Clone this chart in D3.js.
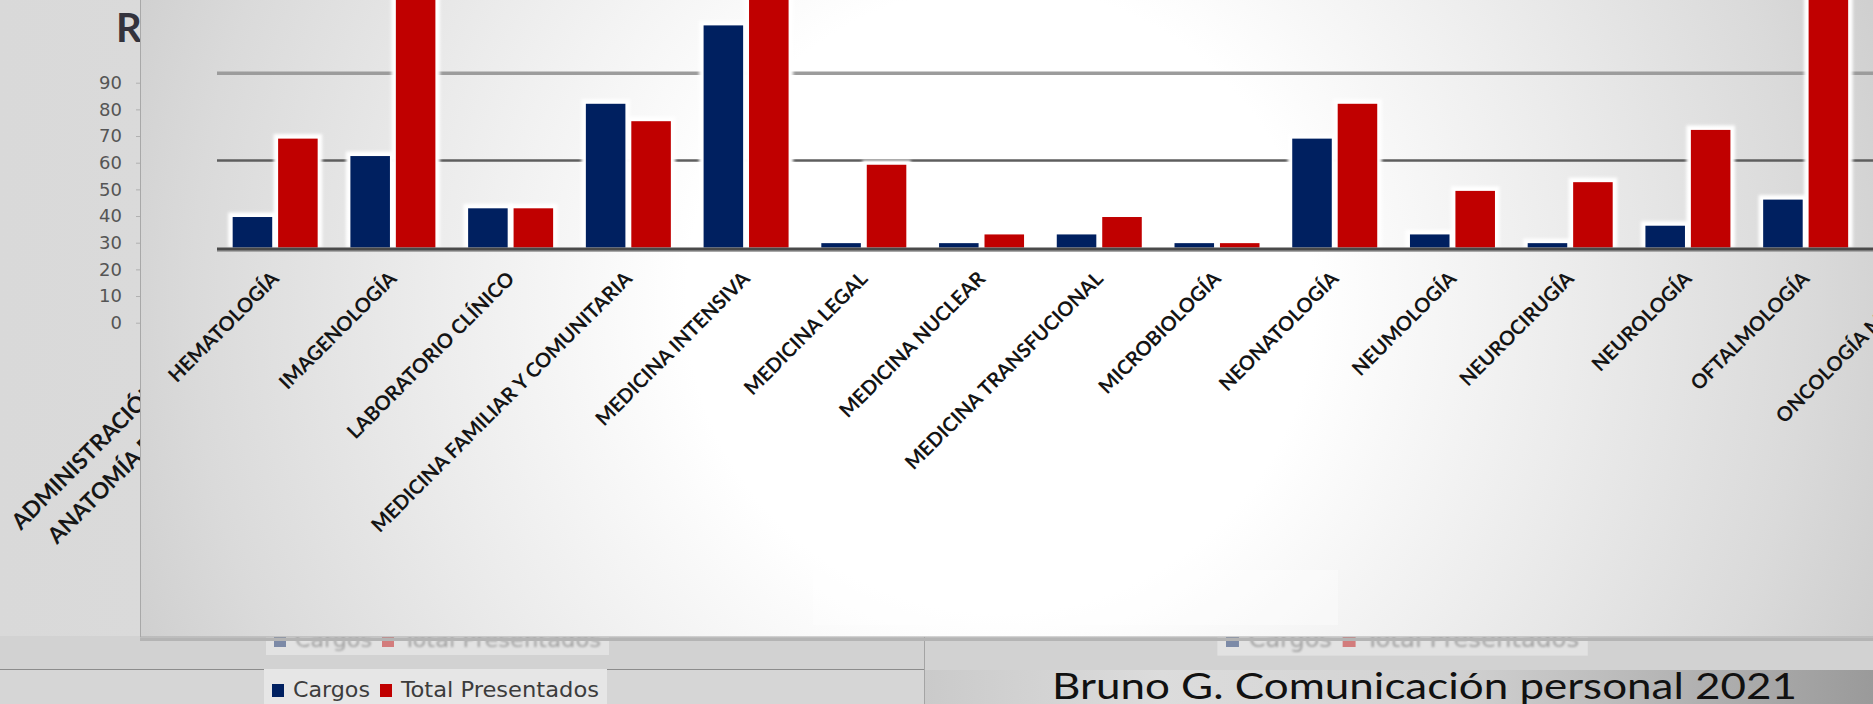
<!DOCTYPE html>
<html>
<head>
<meta charset="utf-8">
<script src="https://cdn.jsdelivr.net/npm/d3@7"></script>
<style>
body { margin: 0; overflow: hidden; background: #dedede; }
</style>
</head>
<body>
<script>
// datos del grafico
var especialidades = ["HEMATOLOGÍA", "IMAGENOLOGÍA", "LABORATORIO CLÍNICO", "MEDICINA FAMILIAR Y COMUNITARIA",
    "MEDICINA INTENSIVA", "MEDICINA LEGAL", "MEDICINA NUCLEAR", "MEDICINA TRANSFUCIONAL", "MICROBIOLOGÍA",
    "NEONATOLOGÍA", "NEUMOLOGÍA", "NEUROCIRUGÍA", "NEUROLOGÍA", "OFTALMOLOGÍA", "ONCOLOGÍA MÉDICA"];
var cargos      = [7, 21, 9, 33, 51, 1, 1, 3, 1, 25, 3, 1, 5, 11, null];
var presentados = [25, 64, 9, 29, 70, 19, 3, 7, 1, 33, 13, 15, 27, 60, null];
var series = ["Cargos", "Total Presentados"];
var colores = ["#002060", "#C00000"];
var lineasGuia = [20, 40];

// diapositiva de fondo (parcialmente tapada)
var ticksFondo = [0, 10, 20, 30, 40, 50, 60, 70, 80, 90];
var etiquetasFondo = ["ADMINISTRACIÓN", "ANATOMÍA PATOLÓGICA"];
var tituloFondo = "R";
var fuente = "Bruno G. Comunicación personal 2021";

var width = 1873, height = 704;
var svg = d3.select("body").append("svg")
    .attr("width", width)
    .attr("height", height);
var defs = svg.append("defs");

// gradientes
var gFondo = defs.append("linearGradient").attr("id", "gFondo");
gFondo.append("stop").attr("offset", "0").attr("stop-color", "#d9d9d9");
gFondo.append("stop").attr("offset", "1").attr("stop-color", "#e6e6e6");

var gPanel = defs.append("radialGradient").attr("id", "gPanel")
    .attr("gradientUnits", "userSpaceOnUse")
    .attr("cx", 1000).attr("cy", 300).attr("r", 950);
[[0, "#ffffff"], [0.33, "#ffffff"], [0.6, "#ececec"], [0.85, "#dadada"], [1, "#cdcdcd"]].forEach(function (s) {
    gPanel.append("stop").attr("offset", s[0]).attr("stop-color", s[1]);
});

var gPie = defs.append("linearGradient").attr("id", "gPie");
[[0, "#cacaca"], [0.25, "#dcdcdc"], [0.55, "#d2d2d2"], [1, "#9a9a9a"]].forEach(function (s) {
    gPie.append("stop").attr("offset", s[0]).attr("stop-color", s[1]);
});

var blur = defs.append("filter").attr("id", "halo")
    .attr("x", "-50%").attr("y", "-50%").attr("width", "200%").attr("height", "200%");
blur.append("feGaussianBlur").attr("stdDeviation", 1.4);

var blurTexto = defs.append("filter").attr("id", "borroso");
blurTexto.append("feGaussianBlur").attr("stdDeviation", 0.8);

// ---------- capa de fondo ----------
svg.append("rect").attr("x", 0).attr("y", 0).attr("width", width).attr("height", height)
    .attr("fill", "url(#gFondo)");

svg.append("text").attr("x", 116).attr("y", 42)
    .attr("font-family", "Lato, 'Open Sans', sans-serif").attr("font-weight", "bold")
    .attr("font-size", 40).attr("fill", "#33333d").text(tituloFondo);

var yFondo = d3.scaleLinear().domain([0, 90]).range([322.7, 82.7]);
var ejeFondo = svg.append("g").attr("transform", "translate(140,0)")
    .call(d3.axisLeft(yFondo).tickValues(ticksFondo).tickSize(4).tickPadding(14));
ejeFondo.select(".domain").remove();
ejeFondo.selectAll("line").attr("stroke", "#b0b0b0");
ejeFondo.selectAll("text")
    .attr("font-family", "'DejaVu Sans', sans-serif").attr("font-size", 18).attr("fill", "#555555");

svg.selectAll(".etFondo").data(etiquetasFondo).enter().append("text")
    .attr("class", "etFondo")
    .attr("transform", function (d, i) {
        return i == 0 ? "translate(21,531) rotate(-45)" : "translate(57,545) rotate(-45)";
    })
    .attr("font-family", "Lato, 'Open Sans', sans-serif").attr("font-weight", "bold")
    .attr("font-size", 22.5).attr("fill", "#161616")
    .text(function (d) { return d; });

// franjas bajo el panel
svg.append("rect").attr("x", 0).attr("y", 636).attr("width", width).attr("height", 34).attr("fill", "#d2d2d2");
svg.append("rect").attr("x", 0).attr("y", 669).attr("width", 924).attr("height", 35).attr("fill", "#d6d6d6");
svg.append("rect").attr("x", 924).attr("y", 670).attr("width", width - 924).attr("height", 34).attr("fill", "url(#gPie)");
svg.append("line").attr("x1", 0).attr("x2", 924).attr("y1", 669.5).attr("y2", 669.5)
    .attr("stroke", "#8c8c8c").attr("stroke-width", 1);
svg.append("line").attr("x1", 924.5).attr("x2", 924.5).attr("y1", 636).attr("y2", 704)
    .attr("stroke", "#a4a4a4").attr("stroke-width", 1);

// leyendas (una visible y dos tapadas por el panel)
function leyenda(x0, yBase, escala, opaca) {
    var g = svg.append("g").attr("transform", "translate(" + x0 + "," + yBase + ") scale(" + escala + ")");
    g.append("rect").attr("x", -8).attr("y", -28).attr("width", 343).attr("height", opaca ? 40 : 36)
        .attr("fill", opaca ? "#e6e6e6" : "#e2e2e2");
    var offs = [0, 108];
    var anchos = [77, 198];
    series.forEach(function (s, i) {
        g.append("rect").attr("x", offs[i]).attr("y", -13).attr("width", 12).attr("height", 13)
            .attr("fill", colores[i]).attr("opacity", opaca ? 1 : 0.45);
        g.append("text").attr("x", offs[i] + 21).attr("y", 0)
            .attr("font-family", "'DejaVu Sans Condensed', 'Liberation Sans Narrow', 'DejaVu Sans', sans-serif")
            .attr("font-stretch", "condensed")
            .attr("font-size", 22).attr("fill", opaca ? "#3c3c3c" : "#a2a2a2")
            .attr("textLength", anchos[i]).attr("lengthAdjust", "spacingAndGlyphs")
            .attr("filter", opaca ? null : "url(#borroso)")
            .text(s);
    });
}
leyenda(272, 697, 1, true);
leyenda(274, 647, 1, false);
leyenda(1226, 647, 1.08, false);

svg.append("text").attr("x", 1052).attr("y", 699)
    .attr("font-family", "Lato, 'Open Sans', sans-serif").attr("font-size", 37)
    .attr("fill", "#111111")
    .attr("textLength", 745).attr("lengthAdjust", "spacingAndGlyphs")
    .text(fuente);

// ---------- panel del grafico principal ----------
svg.append("rect").attr("x", 140).attr("y", 638).attr("width", width).attr("height", 3)
    .attr("fill", "#b4b4b4");
svg.append("rect").attr("x", 140.5).attr("y", -5).attr("width", width).attr("height", 642)
    .attr("fill", "url(#gPanel)").attr("stroke", "#a8a8a8").attr("stroke-width", 1);
svg.append("rect").attr("x", 813).attr("y", 570).attr("width", 525).attr("height", 55)
    .attr("fill", "#ffffff").attr("opacity", 0.35);

var x0 = d3.scaleBand().domain(especialidades)
    .range([216.3, 216.3 + 15 * 117.73])
    .paddingInner(0.278).paddingOuter(0.139);
var x1 = d3.scaleBand().domain(series).range([0, x0.bandwidth()]).paddingInner(0.13);
var y = d3.scaleLinear().domain([0, 40]).range([247.5, 73.3]);

// lineas guia
svg.selectAll(".guia").data(lineasGuia).enter().append("line")
    .attr("class", "guia")
    .attr("x1", 217).attr("x2", width)
    .attr("y1", function (d) { return y(d); })
    .attr("y2", function (d) { return y(d); })
    .attr("stroke", function (d) { return d == 20 ? "#5e5e5e" : "#9c9c9c"; })
    .attr("stroke-width", function (d) { return d == 20 ? 2.5 : 3.5; });

// datos por barra
var barras = [];
especialidades.forEach(function (e, i) {
    [cargos[i], presentados[i]].forEach(function (v, j) {
        if (v != null) barras.push({ cat: e, serie: series[j], valor: v, color: colores[j] });
    });
});

// halo blanco alrededor de cada barra
svg.selectAll(".halo").data(barras).enter().append("rect")
    .attr("class", "halo")
    .attr("x", function (d) { return x0(d.cat) + x1(d.serie) - 4.5; })
    .attr("y", function (d) { return y(d.valor) - 4.5; })
    .attr("width", x1.bandwidth() + 9)
    .attr("height", function (d) { return y(0) - y(d.valor) + 4.5; })
    .attr("fill", "#ffffff")
    .attr("filter", "url(#halo)");

svg.selectAll(".barra").data(barras).enter().append("rect")
    .attr("class", "barra")
    .attr("x", function (d) { return x0(d.cat) + x1(d.serie); })
    .attr("y", function (d) { return y(d.valor); })
    .attr("width", x1.bandwidth())
    .attr("height", function (d) { return y(0) - y(d.valor); })
    .attr("fill", function (d) { return d.color; });

// eje base
svg.append("line").attr("x1", 217).attr("x2", width).attr("y1", y(0) + 3.5).attr("y2", y(0) + 3.5)
    .attr("stroke", "#a8a8a8").attr("stroke-width", 2);
svg.append("line").attr("x1", 217).attr("x2", width).attr("y1", y(0) + 1.6).attr("y2", y(0) + 1.6)
    .attr("stroke", "#4a4a4a").attr("stroke-width", 3);

// etiquetas de categorias
svg.selectAll(".etiqueta").data(especialidades).enter().append("text")
    .attr("class", "etiqueta")
    .attr("transform", function (d) {
        return "translate(" + (x0(d) + x0.bandwidth() / 2 + 5) + ",280) rotate(-45)";
    })
    .attr("text-anchor", "end")
    .attr("font-family", "Lato, 'Open Sans', sans-serif")
    .attr("font-weight", "bold")
    .attr("font-size", 20)
    .attr("fill", "#141414")
    .text(function (d) { return d; });
</script>
</body>
</html>
